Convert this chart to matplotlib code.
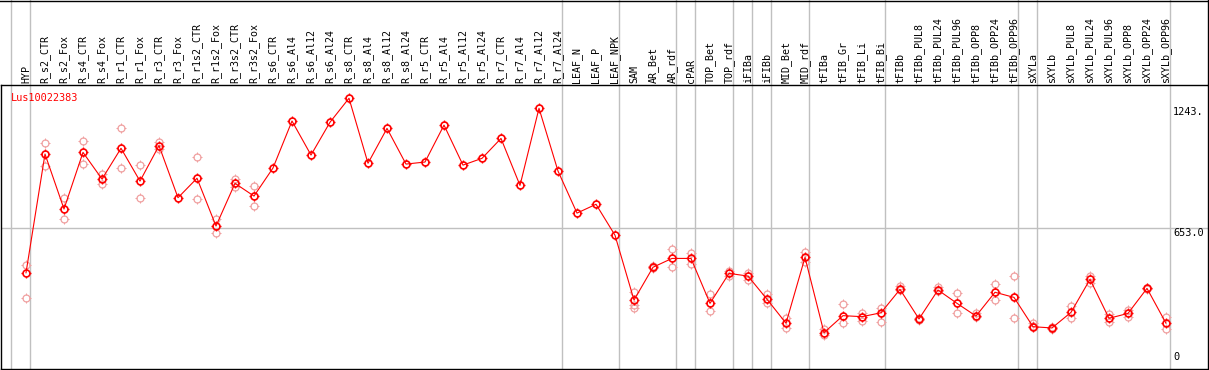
import numpy as np
import matplotlib
matplotlib.use("Agg")
import matplotlib.pyplot as plt
import matplotlib.path as mpath
from matplotlib.lines import Line2D

nan = np.nan

# sample names (x axis, vertical labels on top)
samples = ["HYP", "R_s2_CTR", "R_s2_Fox", "R_s4_CTR", "R_s4_Fox", "R_r1_CTR", "R_r1_Fox",
           "R_r3_CTR", "R_r3_Fox", "R_r1s2_CTR", "R_r1s2_Fox", "R_r3s2_CTR", "R_r3s2_Fox",
           "R_s6_CTR", "R_s6_Al4", "R_s6_Al12", "R_s6_Al24", "R_s8_CTR", "R_s8_Al4",
           "R_s8_Al12", "R_s8_Al24", "R_r5_CTR", "R_r5_Al4", "R_r5_Al12", "R_r5_Al24",
           "R_r7_CTR", "R_r7_Al4", "R_r7_Al12", "R_r7_Al24", "LEAF_N", "LEAF_P", "LEAF_NPK",
           "SAM", "AR_Bet", "AR_rdf", "cPAR", "TOP_Bet", "TOP_rdf", "iFIBa", "iFIBb",
           "MID_Bet", "MID_rdf", "tFIBa", "tFIB_Gr", "tFIB_Li", "tFIB_Bi", "tFIBb",
           "tFIBb_PUL8", "tFIBb_PUL24", "tFIBb_PUL96", "tFIBb_OPP8", "tFIBb_OPP24",
           "tFIBb_OPP96", "sXYLa", "sXYLb", "sXYLb_PUL8", "sXYLb_PUL24", "sXYLb_PUL96",
           "sXYLb_OPP8", "sXYLb_OPP24", "sXYLb_OPP96"]

# mean expression
means = [435, 1014, 746, 1022, 892, 1042, 882, 1055, 801, 896, 663, 871, 809,
         946, 1175, 1009, 1169, 1286, 969, 1139, 965, 975, 1155, 960, 993,
         1090, 861, 1237, 931, 726, 769, 618,
         302, 462, 505, 505, 286, 432, 419, 306, 189, 510,
         143, 226, 221, 240, 354, 210, 351, 286, 224, 340, 315,
         172, 166, 242, 403, 213, 237, 359, 189]

# replicate values (nan = not shown)
rep_a = [473, 1066, 798, 1077, 917, 1139, 959, 1071, nan, 998, 696, 894, 858,
         nan, nan, nan, nan, nan, nan, nan, nan, nan, nan, nan, nan,
         nan, nan, nan, nan, nan, nan, nan,
         340, 466, 551, 533, 330, 445, 436, 330, 216, 538,
         159, 283, 237, 265, 371, 214, 364, 335, 237, 380, 419,
         189, 162, 273, 421, 232, 254, 359, 221]
rep_b = [310, 956, 696, 965, 869, 944, 798, 1038, nan, 795, 627, 855, 761,
         nan, nan, nan, nan, nan, nan, nan, nan, nan, nan, nan, nan,
         nan, nan, nan, nan, nan, nan, nan,
         262, 458, 462, 476, 249, 419, 400, 286, 164, 489,
         132, 189, 201, 194, 350, 206, 345, 240, 220, 302, 215,
         176, 170, 215, 384, 194, 218, 355, 162]
rep_c = [nan] * 32 + [278] + [nan] * 28

# group separators: boundary after these sample indices
sep_after = [-1, 0, 28, 31, 34, 35, 37, 38, 39, 41, 45, 52, 53, 60]

ytick_vals = [1243, 653, 0]
ytick_text = ["1243.", "653.0", "0"]
gene = "Lus10022383"

RED = "#ff0000"
PINK = "#f0a0a0"
GRAY = "#c0c0c0"
mono = "DejaVu Sans Mono"

# short ticks around the circle, like the original renderer
tick_v, tick_c = [], []
for dx, dy in [(0, 1), (0, -1), (1, 0), (-1, 0)]:
    tick_v += [(dx * 1.0, dy * 1.0), (dx * 1.4, dy * 1.4)]
    tick_c += [mpath.Path.MOVETO, mpath.Path.LINETO]
ticks = mpath.Path(tick_v, tick_c)


def gear_marks(ax, xs, ys, color, mew, z):
    ax.plot(xs, ys, linestyle="none", marker="o", markersize=5.0, mfc="none",
            mec=color, mew=mew, zorder=z)
    ax.plot(xs, ys, linestyle="none", marker=ticks, markersize=7.0, mfc="none",
            mec=color, mew=mew * 0.8, zorder=z)


W, H = 1209, 370
fig = plt.figure(figsize=(W / 100, H / 100), dpi=100)
ax = fig.add_axes([1 / W, 1 - 369 / H, 1207 / W, 284 / H])

x = np.arange(len(samples))
ax.set_xlim((1 - 26) / 19, (1208 - 26) / 19)
ax.set_ylim((362 - 369) / 0.2051, (362 - 85) / 0.2051)

for r in (rep_a, rep_b, rep_c):
    gear_marks(ax, x, r, PINK, 0.9, 3)
ax.plot(x, means, color=RED, lw=0.8, zorder=4)
gear_marks(ax, x, means, RED, 1.2, 5)

ax.axhline(653, color=GRAY, lw=1, zorder=1)
for k in sep_after:
    ax.axvline(k + 4 / 19, ymin=0, ymax=369 / 284, color=GRAY, lw=1,
               clip_on=False, zorder=1)

for i, s in enumerate(samples):
    ax.text(i, 1 + 2 / 284, s, transform=ax.get_xaxis_transform(), rotation=90,
            ha="center", va="bottom", fontsize=7.2, family=mono)

xlab = (1173 - 26) / 19
for v, t in zip(ytick_vals, ytick_text):
    ax.text(xlab, v if v > 0 else 0, t, ha="left",
            va="top" if v > 0 else "bottom", fontsize=7.4, family=mono,
            clip_on=True, zorder=6)

ax.text(10 / 1207, 1 - 8 / 284, gene, transform=ax.transAxes, color=RED,
        fontsize=7.4, family=mono, ha="left", va="top")

ax.set_xticks([])
ax.set_yticks([])
for sp in ax.spines.values():
    sp.set_color("black")
    sp.set_linewidth(1)

fig.add_artist(Line2D([0, 1], [1 - 0.5 / H, 1 - 0.5 / H], color="black", lw=1))
fig.add_artist(Line2D([1207.5 / W, 1207.5 / W], [1 - 85 / H, 1], color="black", lw=1))

fig.savefig("out.png", dpi=100)
